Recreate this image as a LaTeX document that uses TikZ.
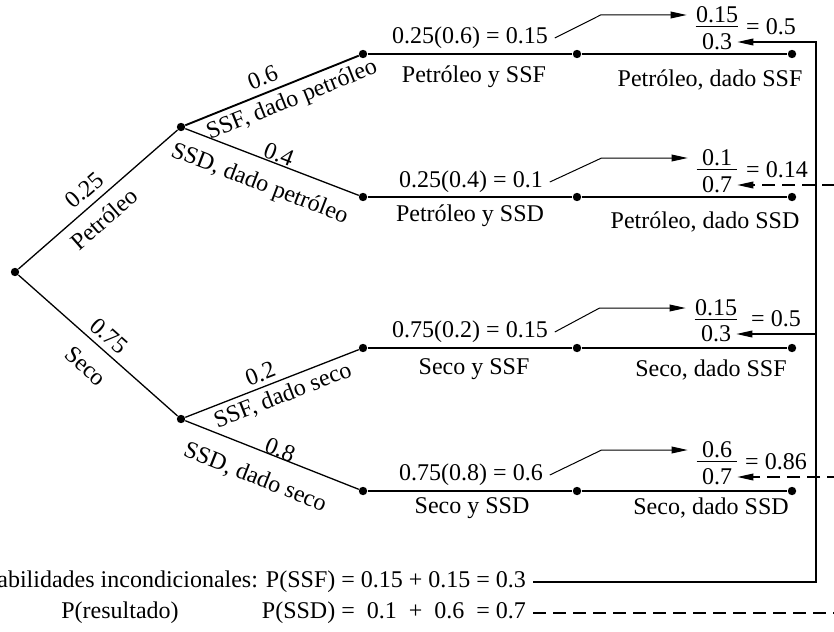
\documentclass[tikz,border=0pt]{standalone}
\usepackage{fontspec}
\setmainfont{Liberation Serif}
\usetikzlibrary{arrows.meta,calc}
\newlength\numw

\begin{document}
\begin{tikzpicture}[x=0.5pt,y=-0.5pt,
  every node/.style={font=\fontsize{12}{14}\selectfont},
  dot/.style={circle, fill, inner sep=0pt, minimum size=4.2pt},
  branch/.style={line width=0.65pt},
  heavy/.style={line width=0.95pt},
  over/.style={sloped, above=#1}, over/.default=0pt,
  under/.style={sloped, below=#1}, under/.default=0pt,
  num/.style={minimum width=20pt, inner xsep=0pt, inner ysep=1.5pt},
  conn/.style={line width=0.5pt, shorten >=4.5pt, -{Triangle[length=8pt,width=3.4pt]}},
  back/.style={line width=0.6pt, -{Triangle[length=8pt,width=3.4pt]}},
  dback/.style={back, dash pattern=on 6.5pt off 3.5pt}
]
  \useasboundingbox (0,0) rectangle (834,631);
  \clip (0,0) rectangle (834,631);

  \node[dot] (r) at (15,272) {};
  \node[dot] (p) at (181,127) {};
  \node[dot] (s) at (181,419) {};
  \foreach \n/\y in {pf/54, pd/197, sf/348, sd/491}{
    \node[dot] (\n) at (363,\y) {};
    \node[dot] (\n-m) at (577,\y) {};
    \node[dot] (\n-e) at (792,\y) {};
  }

  \draw[branch] (r) -- node[over=0.3pt, pos=0.48]{0.25} node[under=1.3pt, pos=0.46]{Petróleo} (p);
  \draw[branch] (r) -- node[over=-0.5pt, pos=0.51]{0.75} node[under=4pt, pos=0.52]{Seco} (s);
  \draw[heavy] (p) -- node[over, pos=0.48]{0.6} node[under=-0.8pt, pos=0.58]{SSF, dado petróleo} (pf);
  \draw[branch] (p) -- node[over=-3pt, pos=0.52]{0.4} node[under=3.6pt, pos=0.48]{SSD, dado petróleo} (pd);
  \draw[branch] (s) -- node[over=-1pt, pos=0.46]{0.2} node[under=-0.9pt, pos=0.53]{SSF, dado seco} (sf);
  \draw[branch] (s) -- node[over=-3.8pt, pos=0.53]{0.8} node[under=4.9pt, pos=0.46]{SSD, dado seco} (sd);

  \draw[heavy] (pf) -- (pf-m) -- (pf-e);
  \draw[branch] (pd) -- (pd-m) -- (pd-e);
  \draw[branch] (sf) -- (sf-m) -- (sf-e);
  \draw[branch] (sd) -- (sd-m) -- (sd-e);

  \node (j1) at (470,38) {0.25(0.6) = 0.15};
  \node (b1) at (474,77) {Petróleo y SSF};
  \node (g1) at (710,80) {Petróleo, dado SSF};
  \node (j2) at (471,182) {0.25(0.4) = 0.1};
  \node (b2) at (470,216) {Petróleo y SSD};
  \node (g2) at (705,222) {Petróleo, dado SSD};
  \node (j3) at (470,332) {0.75(0.2) = 0.15};
  \node (b3) at (474,369) {Seco y SSF};
  \node (g3) at (711,370) {Seco, dado SSF};
  \node (j4) at (471,475) {0.75(0.8) = 0.6};
  \node (b4) at (472,508) {Seco y SSD};
  \node (g4) at (711,508) {Seco, dado SSD};

  \node[num] (n1) at (717,15) {0.15};
  \node[num] (d1) at (717,42) {0.3};
  \node (e1) at (771,27) {= 0.5};
  \node[num] (n2) at (717,158) {0.1};
  \node[num] (d2) at (717,185) {0.7};
  \node (e2) at (777,170) {= 0.14};
  \node[num] (n3) at (716,308) {0.15};
  \node[num] (d3) at (716,334) {0.3};
  \node (e3) at (776,319) {= 0.5};
  \node[num] (n4) at (717,450) {0.6};
  \node[num] (d4) at (717,477) {0.7};
  \node (e4) at (776,462) {= 0.86};
  \foreach \i in {1,...,4}
    \draw[line width=0.5pt] (n\i.south west) -- (n\i.south east);

  \draw[conn] (j1.east) -- ($(n1.west)+(-95,0)$) -- (n1.west);
  \draw[conn] (j2.east) -- ($(n2.west)+(-95,0)$) -- (n2.west);
  \draw[conn] (j3.east) -- ($(n3.west)+(-95,0)$) -- (n3.west);
  \draw[conn] (j4.east) -- ($(n4.west)+(-95,0)$) -- (n4.west);

  \node[anchor=east] (t1) at (533,582) {Probabilidades incondicionales: P(SSF) = 0.15 + 0.15 = 0.3};
  \node[anchor=east] (t2) at (533,613) {\settowidth{\numw}{0.15}P(SSD) = \makebox[\numw]{0.1} + \makebox[\numw]{0.6} = 0.7};
  \node (pr) at (120,613) {P(resultado)};

  \coordinate (sv) at (816,0);
  \coordinate (dv) at (880,0);
  \draw[back] (t1.east) -| (sv |- d1.east) -- (d1.east);
  \draw[back] (sv |- d3.east) -- (d3.east);
  \draw[dback] (t2.east) -| (dv |- d2.east) -- (d2.east);
  \draw[dback] (dv |- d4.east) -- (d4.east);
\end{tikzpicture}
\end{document}
